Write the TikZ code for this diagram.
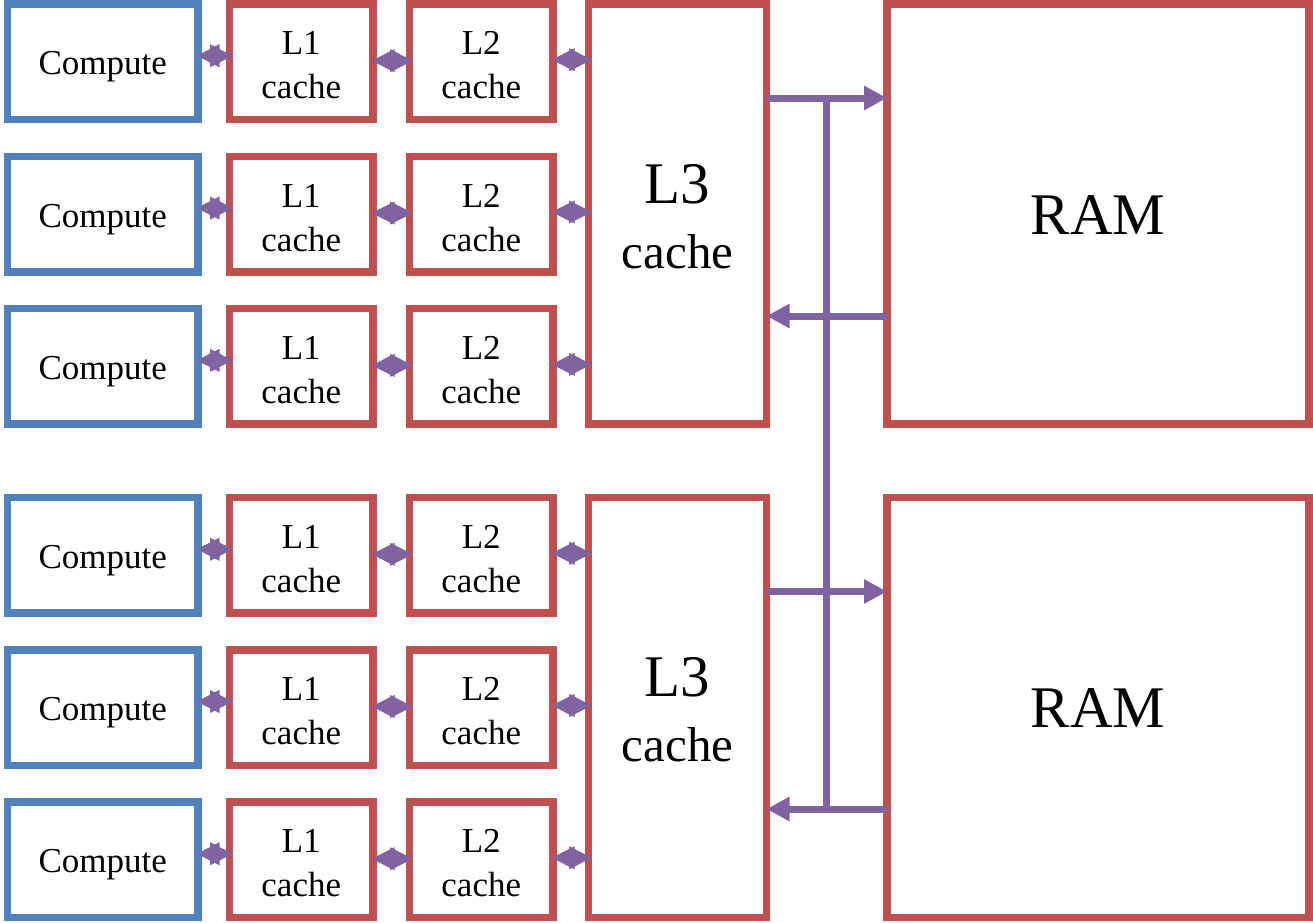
\documentclass[tikz,border=0pt]{standalone}
\usepackage{fontspec}
\setmainfont{Liberation Serif}
\usetikzlibrary{arrows.meta}
\definecolor{cblue}{HTML}{4F81BD}
\definecolor{cred}{HTML}{C0504D}
\definecolor{cpurp}{HTML}{8064A2}
\begin{document}
\begin{tikzpicture}[x=1bp,y=-1bp,
  frame/.style={draw, line width=7.5bp, inner sep=0pt, outer sep=0pt, fill=white},
  cbox/.style={frame, draw=cblue, minimum width=190.5bp, minimum height=115.5bp},
  cachebox/.style={frame, draw=cred, minimum width=143.5bp, minimum height=115.5bp},
  l3box/.style={frame, draw=cred, minimum width=178bp, minimum height=420bp},
  rambox/.style={frame, draw=cred, minimum width=422bp, minimum height=420bp},
  smalltxt/.style={font=\fontsize{35bp}{40bp}\selectfont, inner sep=0pt, anchor=base},
  l3txt/.style={font=\fontsize{59bp}{64bp}\selectfont, inner sep=0pt, anchor=base},
  l3ctxt/.style={font=\fontsize{49bp}{54bp}\selectfont, inner sep=0pt, anchor=base},
  ramtxt/.style={font=\fontsize{59bp}{64bp}\selectfont, inner sep=0pt, anchor=base},
  link/.style={draw=cpurp, line width=4bp,
    {Triangle[length=23bp,width=22bp]}-{Triangle[length=23bp,width=22bp]}},
  busarrow/.style={draw=cpurp, line width=7bp, -{Triangle[length=23bp,width=23bp]}},
  busline/.style={draw=cpurp, line width=7bp}]
\useasboundingbox (0,0) rectangle (1313,922);
% L3 and RAM boxes
\node[l3box] (l3a) at (677.5,214) {};
\node[l3box] (l3b) at (677.5,707.5) {};
\node[rambox] (rama) at (1098,214) {};
\node[rambox] (ramb) at (1098,707.5) {};
\node[l3txt] (l3at) at ([yshift=11bp]l3a.center) {L3};
\node[l3ctxt] (l3ac) at ([yshift=-54bp]l3a.center) {cache};
\node[l3txt] (l3bt) at ([yshift=11bp]l3b.center) {L3};
\node[l3ctxt] (l3bc) at ([yshift=-54bp]l3b.center) {cache};
\node[ramtxt] (ramat) at ([yshift=-20bp]rama.center) {RAM};
\node[ramtxt] (rambt) at ([yshift=-20bp]ramb.center) {RAM};
% rows
\foreach \i/\t/\k in {1/4/a,2/156.3/a,3/308.6/a,4/497.5/b,5/649.75/b,6/802/b} {
  \node[cbox] (c\i) at (102.75,{\t+57.75}) {};
  \node[cachebox] (la\i) at (301.25,{\t+57.75}) {};
  \node[cachebox] (lb\i) at (481.25,{\t+57.75}) {};
  \node[smalltxt] (ct\i) at ([yshift=-13bp]c\i.center) {Compute};
  \node[smalltxt] (lat\i) at ([yshift=7bp]la\i.center) {L1};
  \node[smalltxt] (lac\i) at ([yshift=-37bp]la\i.center) {cache};
  \node[smalltxt] (lbt\i) at ([yshift=7bp]lb\i.center) {L2};
  \node[smalltxt] (lbc\i) at ([yshift=-37bp]lb\i.center) {cache};
  \draw[link] ([yshift=6bp,xshift=-1.5bp]c\i.east) -- ([yshift=6bp,xshift=3.5bp]la\i.west);
  \draw[link] ([yshift=1bp,xshift=-1.5bp]la\i.east) -- ([yshift=1bp,xshift=3.5bp]lb\i.west);
  \draw[link] ([yshift=2bp,xshift=-1.5bp]lb\i.east) -- ([yshift=2bp,xshift=3.5bp]lb\i.east -| l3\k.west);
}
% bus
\coordinate (bt) at (826.75,98);
\coordinate (bb) at (826.75,809);
\draw[busline] (bt) -- (bb);
\draw[busarrow] ([yshift=116bp]l3a.east) -- ([yshift=116bp]l3a.east -| rama.west);
\draw[busarrow] ([yshift=-102bp]rama.west) -- ([yshift=-102bp]rama.west -| l3a.east);
\draw[busarrow] ([yshift=116bp]l3b.east) -- ([yshift=116bp]l3b.east -| ramb.west);
\draw[busarrow] ([yshift=-101.5bp]ramb.west) -- ([yshift=-101.5bp]ramb.west -| l3b.east);
\end{tikzpicture}
\end{document}
